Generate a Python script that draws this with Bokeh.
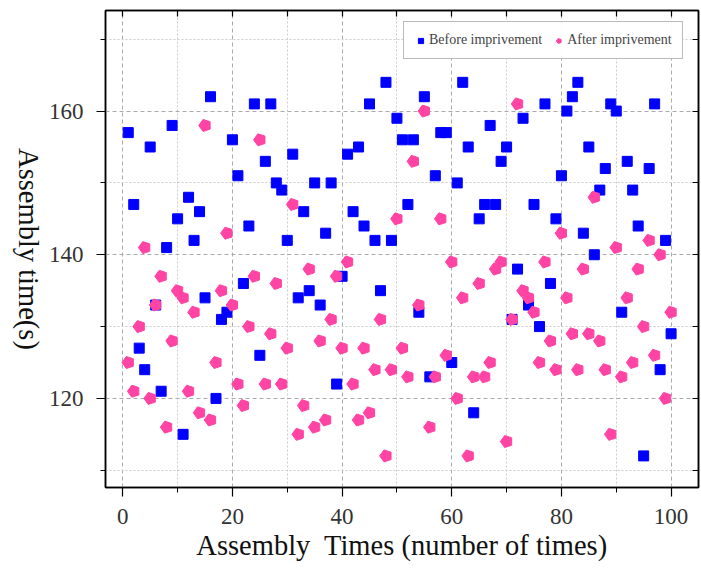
import math
from bokeh.plotting import figure
from bokeh.layouts import row
from bokeh.models import FixedTicker, LinearAxis, Range1d, Legend, LegendItem
from bokeh.core.properties import value
from bokeh.embed import file_html
from bokeh.resources import INLINE

# ---- data ----
times = list(range(1, 101))
before = [157, 147, 127, 124, 155, 133, 121, 141, 158, 145,
          115, 148, 142, 146, 134, 162, 120, 131, 132, 156,
          151, 136, 144, 161, 126, 153, 161, 150, 149, 142,
          154, 134, 146, 135, 150, 133, 143, 150, 122, 137,
          154, 146, 155, 144, 161, 142, 135, 164, 142, 159,
          156, 147, 156, 132, 162, 123, 151, 157, 157, 125,
          150, 164, 155, 118, 145, 147, 158, 147, 153, 155,
          131, 138, 159, 133, 147, 130, 161, 136, 145, 151,
          160, 162, 164, 143, 155, 140, 149, 152, 161, 160,
          132, 153, 149, 144, 112, 152, 161, 124, 142, 129]
after = [125, 121, 130, 141, 120, 133, 137, 116, 128, 135,
         134, 121, 132, 118, 158, 117, 125, 135, 143, 133,
         122, 119, 130, 137, 156, 122, 129, 136, 122, 127,
         147, 115, 119, 138, 116, 128, 117, 131, 137, 127,
         139, 122, 117, 127, 118, 124, 131, 112, 124, 145,
         127, 123, 153, 133, 160, 116, 123, 145, 126, 139,
         120, 134, 112, 123, 136, 123, 125, 138, 139, 114,
         131, 161, 135, 134, 132, 125, 139, 128, 124, 143,
         134, 129, 124, 138, 129, 148, 128, 124, 115, 141,
         123, 134, 125, 138, 130, 142, 126, 140, 120, 132]
x_major = [0, 20, 40, 60, 80, 100]
x_minor = [10, 30, 50, 70, 90]
y_major = [120, 140, 160]
y_minor = [110, 130, 150, 170]
series_labels = ["Before imprivement", "After imprivement"]
x_title = "Assembly\u00a0 Times (number of times)"
y_title = "Assembly time(s)"

SERIF = "Liberation Serif"
BLUE = "#0000ff"
PINK = "#ff44a4"

yr = Range1d(107.6, 174)
p = figure(width=656, height=569,
           x_range=Range1d(-3.15, 105), y_range=yr,
           output_backend="svg", toolbar_location=None,
           min_border_left=60, min_border_top=10, min_border_right=3, min_border_bottom=82)
p.background_fill_color = "white"
p.border_fill_color = "white"
p.outline_line_color = "black"
p.outline_line_width = 1.5

xt = FixedTicker(ticks=x_major, minor_ticks=x_minor)
yt = FixedTicker(ticks=y_major, minor_ticks=y_minor)
p.xaxis.ticker = xt
p.yaxis.ticker = yt

for ax in (p.xaxis, p.yaxis):
    ax.axis_line_color = "black"
    ax.axis_line_width = 1.5
    ax.major_tick_line_color = "black"
    ax.minor_tick_line_color = "black"
    ax.major_tick_line_width = 1.2
    ax.major_tick_out = 9
    ax.major_tick_in = 0
    ax.minor_tick_out = 5
    ax.minor_tick_in = 0
    ax.major_label_text_font = SERIF
    ax.major_label_text_font_size = "23px"
    ax.major_label_text_color = "#333333"
p.xaxis.major_label_standoff = 12
p.yaxis.major_label_standoff = 13

p.xaxis.axis_label = x_title
p.xaxis.axis_label_text_font = SERIF
p.xaxis.axis_label_text_font_size = "28.5px"
p.xaxis.axis_label_text_font_style = "normal"
p.xaxis.axis_label_text_color = "#111111"
p.xaxis.axis_label_standoff = 3

# extra axes on top and right with inward ticks (no labels)
for loc, tk in (("right", y_major + y_minor), ("above", x_major + x_minor)):
    ax = LinearAxis(ticker=FixedTicker(ticks=[], minor_ticks=sorted(tk)),
                    major_tick_in=0, major_tick_out=0, minor_tick_in=6, minor_tick_out=0,
                    axis_line_color="black", axis_line_width=1.5,
                    minor_tick_line_color="black", minor_tick_line_width=1.2)
    p.add_layout(ax, loc)

for g, ticks in ((p.xgrid, xt), (p.ygrid, yt)):
    g.ticker = ticks
    g.grid_line_color = "#aaaaaa"
    g.grid_line_dash = "4 3"
    g.grid_line_width = 1
    g.minor_grid_line_color = "#cccccc"
    g.minor_grid_line_dash = "2 2"
    g.minor_grid_line_width = 1

r1 = p.scatter(x=times, y=before, marker="square", size=10,
               fill_color=BLUE, line_color=BLUE)
r2 = p.ngon(x=times, y=after, radius=6.3, radius_units="screen", n=5,
            angle=math.pi / 2, fill_color=PINK, line_color=PINK)

legend = Legend(items=[LegendItem(label=series_labels[0], renderers=[r1]),
                       LegendItem(label=series_labels[1], renderers=[r2])],
                orientation="horizontal", location=(298, 428), margin=0,
                label_text_font=SERIF, label_text_font_size="14px",
                glyph_width=13, glyph_height=13, label_standoff=2, spacing=10,
                padding=10, border_line_color="#777777", border_line_width=1,
                label_height=15)
p.add_layout(legend)

# narrow side panel carrying the y-axis title (reads top to bottom)
q = figure(width=45, height=569, x_range=Range1d(0, 45), y_range=yr,
           output_backend="svg", toolbar_location=None,
           min_border_left=0, min_border_right=0, min_border_top=10, min_border_bottom=82)
q.axis.visible = False
q.grid.visible = False
q.outline_line_color = None
q.background_fill_color = "white"
q.border_fill_color = "white"
q.text(x=[28], y=[(yr.start + yr.end) / 2], text=[y_title], angle=-math.pi / 2,
       text_align="center", text_baseline="middle",
       text_font=value(SERIF), text_font_size="28.5px", text_color="#111111")

layout = row(q, p, spacing=0)
open("out.html", "w").write(file_html(layout, INLINE))
